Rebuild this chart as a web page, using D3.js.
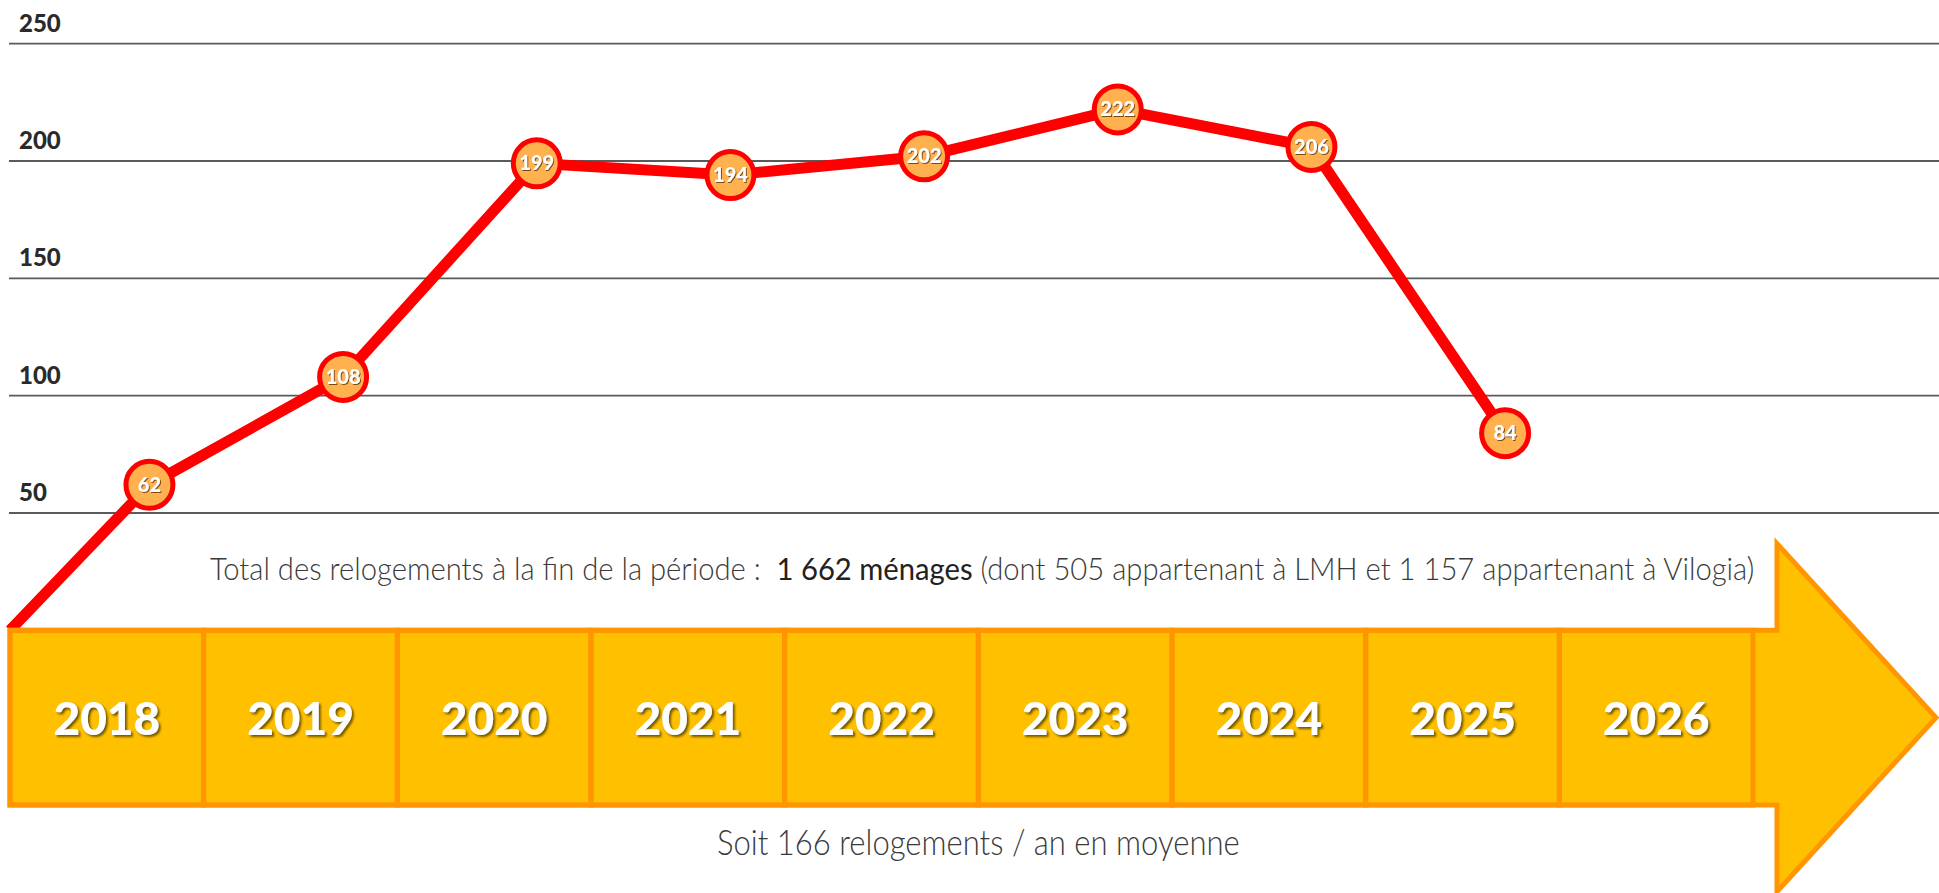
<!DOCTYPE html>
<html>
<head>
<meta charset="utf-8">
<script src="https://cdn.jsdelivr.net/npm/d3@7"></script>
<style>
  body { margin: 0; background: #ffffff; }
  svg { display: block; }
</style>
</head>
<body>
<div id="chart"></div>
<script>
// data
var years = [2018, 2019, 2020, 2021, 2022, 2023, 2024, 2025, 2026];
var pointYears = [2018, 2019, 2020, 2021, 2022, 2023, 2024, 2025];
var relogements = [62, 108, 199, 194, 202, 222, 206, 84];
var startValue = 0;
var yTicks = [50, 100, 150, 200, 250];
var totalParts = [
    { text: "Total des relogements à la fin de la période :  ", strong: false },
    { text: "1 662 ménages", strong: true },
    { text: " (dont 505 appartenant à LMH et 1 157 appartenant à Vilogia)", strong: false }
];
var averageText = "Soit 166 relogements / an en moyenne";

var width = 1939, height = 893;

var svg = d3.select('#chart').append('svg')
    .attr('width', width)
    .attr('height', height);

var defs = svg.append('defs');
defs.append('filter').attr('id', 'yearShadow')
    .attr('x', '-10%').attr('y', '-20%').attr('width', '130%').attr('height', '150%')
    .append('feDropShadow')
    .attr('dx', 2).attr('dy', 2).attr('stdDeviation', 1)
    .attr('flood-color', '#5a4400').attr('flood-opacity', 0.85);
defs.append('filter').attr('id', 'dotShadow')
    .attr('x', '-20%').attr('y', '-30%').attr('width', '150%').attr('height', '170%')
    .append('feDropShadow')
    .attr('dx', 1).attr('dy', 1).attr('stdDeviation', 0.6)
    .attr('flood-color', '#5a3000').attr('flood-opacity', 0.8);

// scales
var x = d3.scaleBand()
    .domain(years)
    .range([10, 1753])
    .padding(0);

var y = d3.scaleLinear()
    .domain([0, 250])
    .range([630.3, 43.7]);

// point position inside each year cell
function px(yr) {
    return x(yr) + x.bandwidth() * 0.72;
}

// gridlines + tick labels
var grid = svg.append('g');
grid.selectAll('line').data(yTicks).enter().append('line')
    .attr('x1', 9)
    .attr('x2', width)
    .attr('y1', d => y(d))
    .attr('y2', d => y(d))
    .attr('stroke', '#5a5a5a')
    .attr('stroke-width', 1.8);

grid.selectAll('text').data(yTicks).enter().append('text')
    .attr('x', 19)
    .attr('y', d => y(d) - 12)
    .text(d => d)
    .style('font-family', 'Lato, "Open Sans", sans-serif')
    .style('font-weight', 900)
    .style('font-size', '24px')
    .style('fill', '#2a2a2a');

// red line
var pts = [[x.range()[0], y(startValue)]];
pointYears.forEach(function (yr, i) {
    pts.push([px(yr), y(relogements[i])]);
});

svg.append('path')
    .attr('d', d3.line()(pts))
    .attr('fill', 'none')
    .attr('stroke', '#ff0000')
    .attr('stroke-width', 11)
    .attr('stroke-linejoin', 'round');

// arrow
var bodyTop = y(0), bodyBottom = 805;
var bodyMid = (bodyTop + bodyBottom) / 2;
var notchX = x.range()[1] + 24;
var headHalf = 174;
var arrowPts = [
    [x.range()[0], bodyTop],
    [notchX, bodyTop],
    [notchX, bodyMid - headHalf],
    [width - 3, bodyMid],
    [notchX, bodyMid + headHalf],
    [notchX, bodyBottom],
    [x.range()[0], bodyBottom]
];
svg.append('path')
    .attr('d', d3.line()(arrowPts) + 'Z')
    .attr('fill', '#ffc000')
    .attr('stroke', '#ff9600')
    .attr('stroke-width', 5)
    .attr('stroke-linejoin', 'miter');

var cells = svg.append('g');
cells.selectAll('rect').data(years).enter().append('rect')
    .attr('x', d => x(d))
    .attr('y', bodyTop)
    .attr('width', x.bandwidth())
    .attr('height', bodyBottom - bodyTop)
    .attr('fill', 'none')
    .attr('stroke', '#ff9600')
    .attr('stroke-width', 5);

cells.selectAll('text').data(years).enter().append('text')
    .attr('x', d => x(d) + x.bandwidth() / 2)
    .attr('y', 735)
    .attr('text-anchor', 'middle')
    .text(d => d)
    .attr('filter', 'url(#yearShadow)')
    .style('font-family', 'Lato, "Open Sans", sans-serif')
    .style('font-weight', 900)
    .style('font-size', '46px')
    .style('fill', '#ffffff');

// dots with values
var dots = svg.append('g');
dots.selectAll('circle').data(pointYears).enter().append('circle')
    .attr('cx', d => px(d))
    .attr('cy', (d, i) => y(relogements[i]))
    .attr('r', 23.5)
    .attr('fill', '#ffb04f')
    .attr('stroke', '#ff0000')
    .attr('stroke-width', 5);

dots.selectAll('text').data(pointYears).enter().append('text')
    .attr('x', d => px(d))
    .attr('y', (d, i) => y(relogements[i]) + 7)
    .attr('text-anchor', 'middle')
    .text((d, i) => relogements[i])
    .attr('filter', 'url(#dotShadow)')
    .style('font-family', 'Lato, "Open Sans", sans-serif')
    .style('font-weight', 900)
    .style('font-size', '20px')
    .style('fill', '#ffffff');

// texts above and below the arrow, stretched to the width they take in the picture
function fitText(sel, x0, x1) {
    var w = sel.node().getComputedTextLength();
    var k = (x1 - x0) / w;
    sel.attr('transform', 'translate(' + x0 + ',' + sel.attr('data-y') + ') scale(' + k + ',1)');
}

var total = svg.append('text')
    .attr('data-y', 579.5)
    .style('font-family', 'Lato, "Open Sans", sans-serif')
    .style('font-size', '31px')
    .style('fill', '#3a3a3a')
    .attr('xml:space', 'preserve')
    .style('white-space', 'pre');
total.selectAll('tspan').data(totalParts).enter().append('tspan')
    .text(d => d.text)
    .style('font-weight', d => d.strong ? 400 : 300)
    .style('fill', d => d.strong ? '#222222' : '#3a3a3a');
fitText(total, 210, 1755);

var avg = svg.append('text')
    .attr('data-y', 855)
    .text(averageText)
    .style('font-family', 'Lato, "Open Sans", sans-serif')
    .style('font-weight', 300)
    .style('font-size', '35px')
    .style('fill', '#3a3a3a');
fitText(avg, 717, 1240);
</script>
</body>
</html>
